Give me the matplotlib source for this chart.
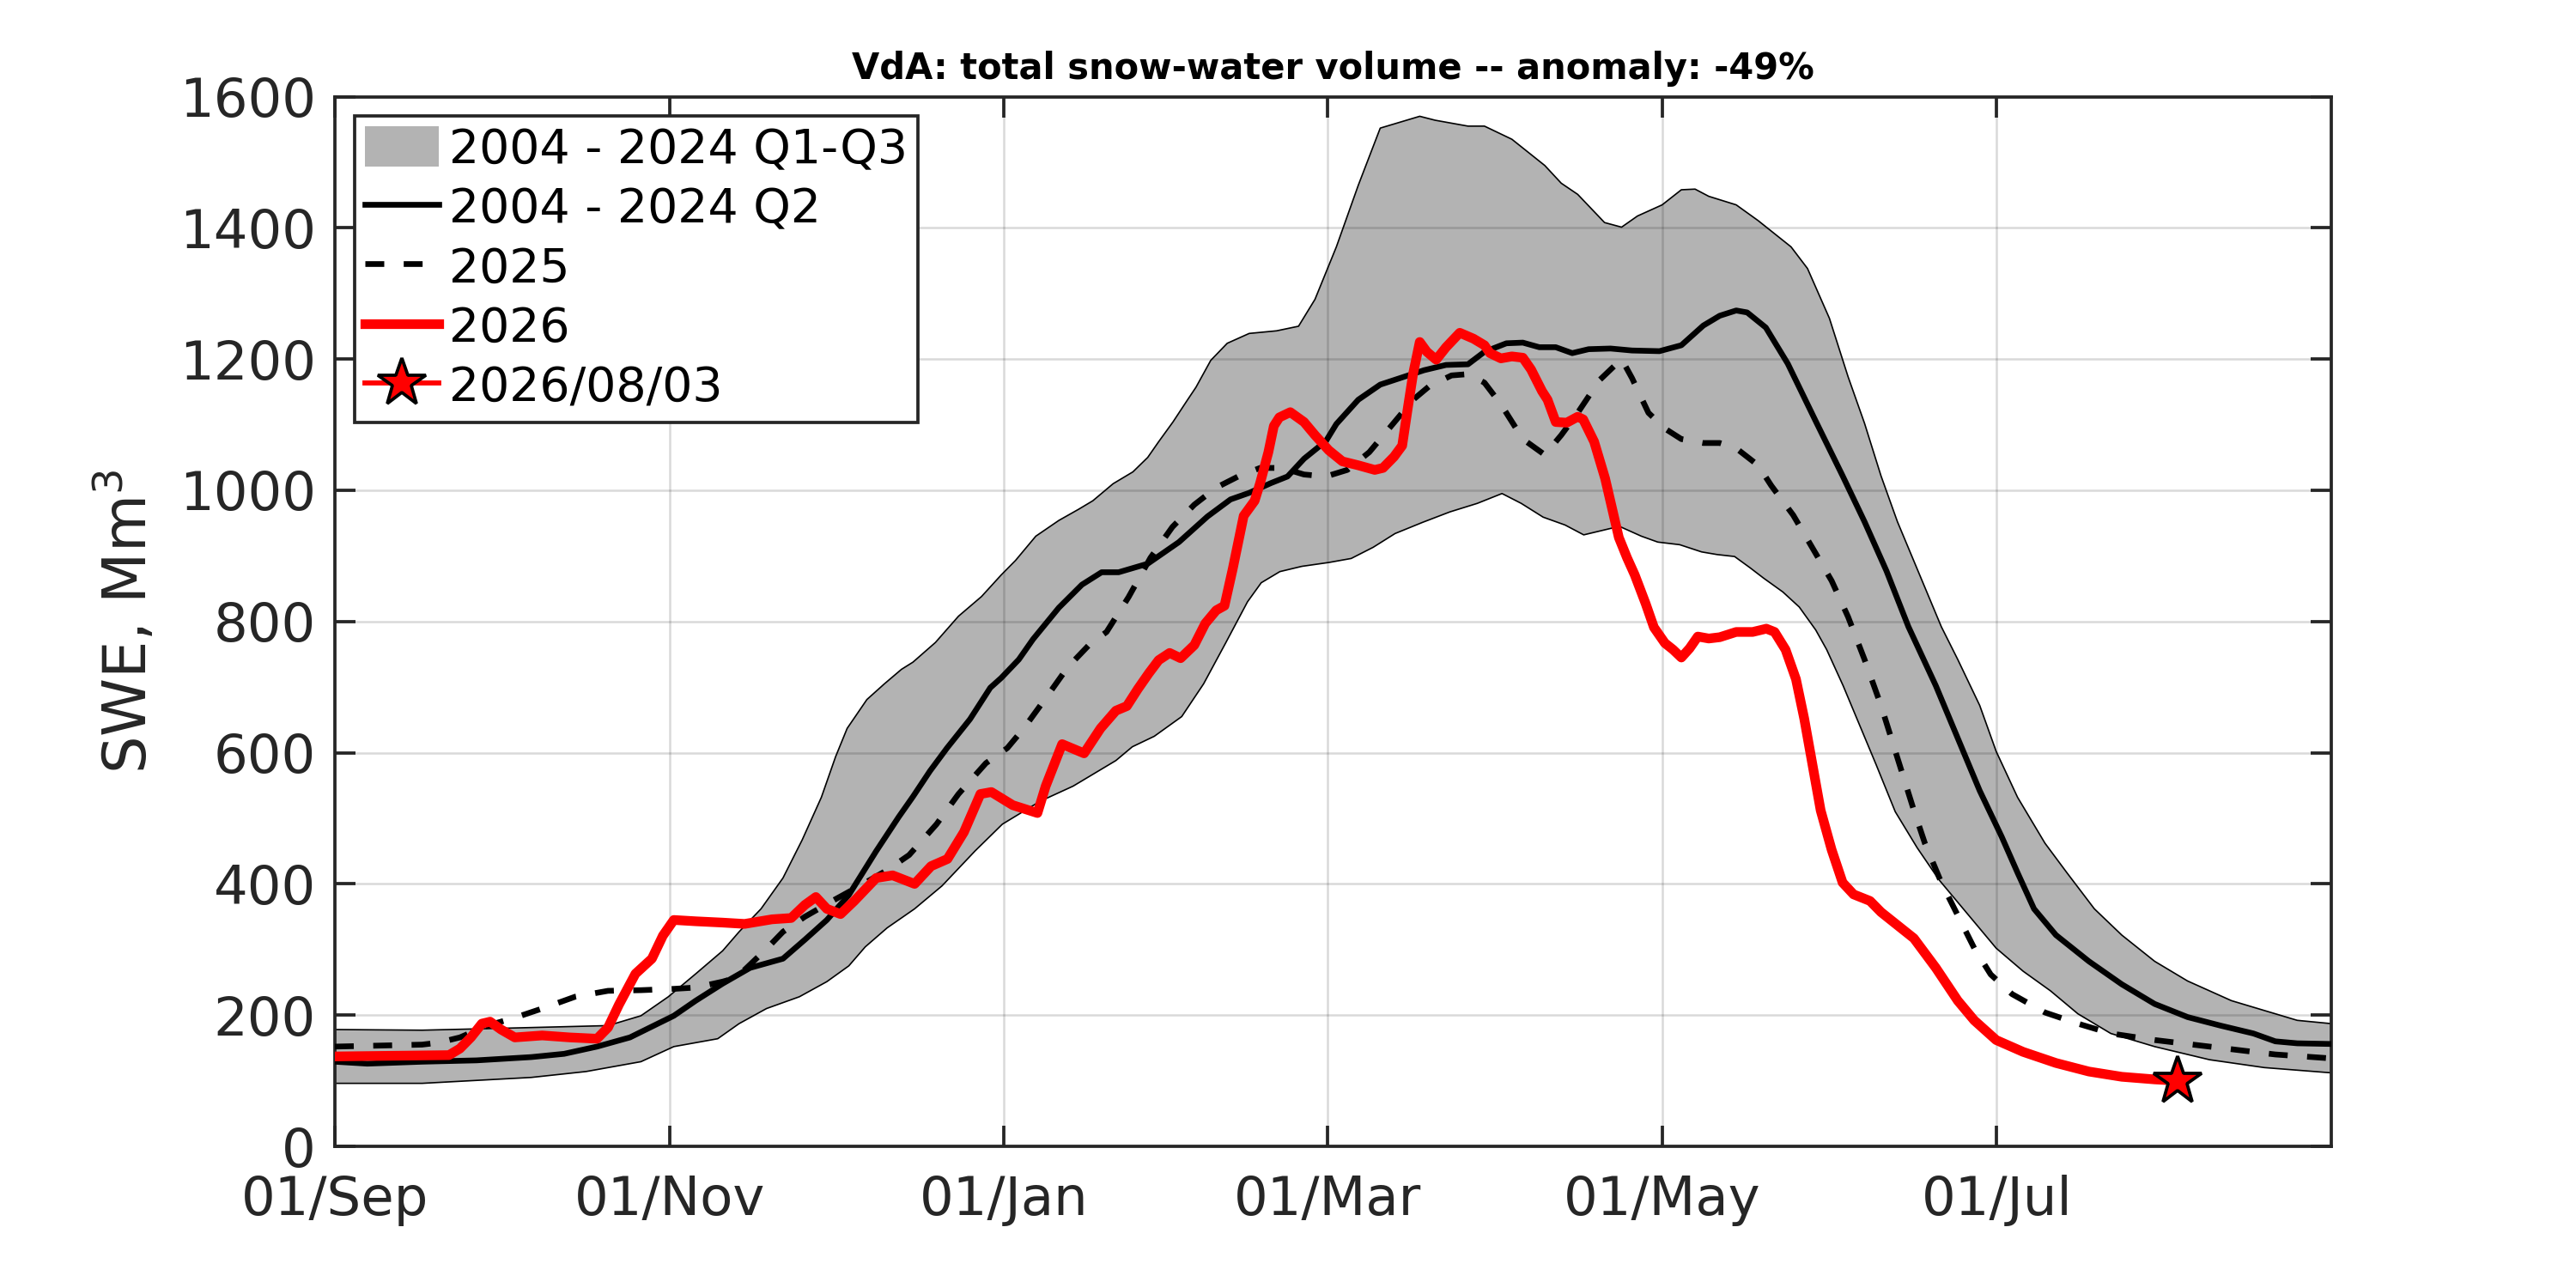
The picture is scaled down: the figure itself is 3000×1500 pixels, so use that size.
import numpy as np
import matplotlib
matplotlib.use('Agg')
import matplotlib.pyplot as plt

# days counted from 01/Sep (season 2025-26), values in Mm3
q3Day = [0, 15.9, 30.8, 49.8, 55.8, 60.8, 65.8, 70.7, 73.7, 77.7, 81.7, 85.2, 88.7, 91.3, 93.4, 97.0,
         100.2, 103.3, 105.4, 109.5, 113.7, 117.9, 121.5, 124.1, 127.8, 132.0, 135.6, 138.2, 141.9,
         145.5, 148.2, 150.2, 152.8, 155.4, 157.0, 159.7,
         162.7, 166.7, 171.7, 175.7, 178.7, 182.6, 186.6, 190.6, 194.6, 197.8, 200.6, 206.6, 209.6,
         214.6, 220.6, 223.6, 226.6, 231.5, 234.6, 237.5, 242, 245.5, 248, 250.5, 255.5, 259.5, 265.5,
         268.5, 272.5, 275.9, 278.9, 281.9, 284.9, 288.9, 292.9, 295.9, 299.9, 302.9, 306.8, 311.8,
         315.8, 320.8, 325.8, 331.8, 337.8, 345.8, 351.8, 357.8, 364]
q3Val = [178, 177, 180, 184, 199, 228, 263, 298, 327, 362, 409, 467, 532, 594, 637, 681,
         705, 727, 738, 768, 808, 838, 871, 893, 930, 954, 971, 984, 1010,
         1028, 1050, 1074, 1104, 1137, 1157, 1198,
         1224, 1239, 1243, 1250, 1291, 1371, 1465, 1552, 1562, 1570, 1564, 1555, 1555,
         1535, 1495, 1468, 1451, 1408, 1401, 1418, 1435, 1458, 1459, 1448, 1435, 1411, 1371,
         1338, 1262, 1173, 1102, 1022, 952, 872, 792, 742, 672, 602, 532, 462,
         417, 362, 322, 282, 252, 222, 207, 192, 187]

q1Day = [0, 15.9, 35.8, 45.8, 55.8, 61.8, 69.8, 73.7, 78.7, 84.7, 89.7, 93.7, 96.7, 100.7, 105.7,
         110.7, 116.7, 121.7, 128.6, 134.6, 142.4, 145.4, 149.4, 154.4, 158.4, 162.4, 166.4, 168.9,
         172.3, 176.3, 181.3, 185.3, 189.3, 193.3, 198.3, 203.3, 208.3, 212.8, 216.3, 220.3, 224.3,
         227.7, 230.2, 234.2, 238.2, 241.2, 245.2, 249.2, 252, 255.2, 258, 260.5, 264, 267, 270, 272,
         275, 278, 281, 284.5, 288.5, 292.5, 297.9, 302.9, 307.8, 312.8, 317.8, 323.8, 331.8, 341.8,
         351.8, 364]
q1Val = [96, 96, 105, 114, 129, 152, 164, 187, 210, 228, 251, 275, 304, 333, 362,
         397, 450, 491, 526, 549, 588, 609, 625, 655, 705, 767, 830, 859,
         876, 884, 890, 896, 913, 934, 951, 967, 980, 995, 980, 959, 947,
         932, 937, 945, 930, 921, 917, 906, 902, 899, 882, 866, 845, 822, 787, 757,
         702, 642, 582, 510, 455, 406, 352, 302, 267, 237, 202, 172, 152, 132,
         120, 112]

q2Day = [0, 5.9, 15.9, 25.8, 35.8, 41.8, 47.8, 53.8, 61.8, 65.8, 70.7, 75.7, 81.7, 85.7, 89.7, 93.7,
         98.7, 102.8, 105.4, 108.5, 111.6, 115.8, 119.5, 121.5, 124.7, 127.3, 132.0, 136.2, 139.8,
         142.9, 148.2, 153.9, 159.1, 163.3, 166.7, 170.7, 173.7, 176.7, 180.7, 182.6, 186.6, 190.6,
         194.6, 198.6, 202.6, 206.6, 209.6, 213.6, 216.6, 219.6, 222.6, 225.6, 228.6, 232.6, 236.5,
         241.5, 245.5, 249.5, 252.5, 255.5, 257.5, 260.9, 264.9, 269.9, 274.9, 278.9, 282.9, 286.9,
         291.9, 295.9, 299.9, 303.9, 306.8, 309.8, 313.8, 319.8, 325.8, 331.8, 337.8, 343.8, 349.8,
         353.8, 357.8, 364]
q2Val = [129, 126, 129, 131, 136, 141, 152, 166, 199, 222, 248, 272, 286, 315, 345, 383,
         450, 502, 533, 572, 607, 651, 699, 714, 742, 773, 821, 856, 875,
         875, 888, 921, 960, 986, 996, 1011, 1021, 1048, 1075, 1101, 1138, 1161,
         1172, 1183, 1191, 1192, 1211, 1224, 1225, 1218, 1218, 1209, 1215, 1216, 1213,
         1212, 1221, 1251, 1266, 1274, 1271, 1248, 1193, 1107, 1022, 952, 877, 792,
         702, 622, 542, 472, 417, 362, 322, 282, 247, 217, 197, 184, 172,
         160, 157, 156]

y25Day = [0, 15.9, 18.9, 22.8, 27.8, 32.8, 37.8, 43.8, 49.8, 55.8, 61.8, 65.8, 70.7, 73.2, 75.7,
          78.7, 81.7, 85.7, 90.7, 95.7, 100.7, 104.7, 109.7, 113.7, 118.7, 122.6, 125.6, 129.6, 133.6,
          137.6, 140.7, 144.7, 148.7, 152.7, 156.7, 160.7, 164.7, 168.7, 172.7, 176.7, 180.7, 184.6,
          188.6, 192.6, 196.6, 199.6, 203.6, 206.6, 209.6, 212.6, 216.6, 220.6, 223.6, 226.6, 230.6,
          234.6, 236.5, 239.5, 242.5, 245.5, 249.5, 252.5, 255.5, 259.5, 261.9, 265.9, 269.9, 272.9,
          275.9, 278.9, 281.9, 284.9, 287.9, 289.9, 292.9, 295.9, 298.9, 301.9, 305.8, 311.8, 317.8,
          323.8, 331.8, 339.8, 346.8, 353.8, 364]
y25Val = [152, 155, 158, 166, 184, 196, 210, 228, 237, 238, 240, 242, 251, 257, 277,
          301, 327, 350, 374, 397, 421, 444, 491, 537, 584, 607, 637, 683, 730,
          765, 784, 837, 897, 944, 978, 1004, 1021, 1034, 1034, 1024, 1021, 1031,
          1058, 1098, 1138, 1159, 1175, 1177, 1164, 1131, 1078, 1054, 1084, 1118, 1168,
          1200, 1171, 1118, 1094, 1078, 1072, 1072, 1064, 1038, 1007, 962, 905, 862,
          807, 742, 672, 592, 512, 462, 402, 352, 302, 262, 232, 204, 187,
          172, 162, 154, 147, 140, 134]

y26Day = [0, 20.8, 22.8, 24.8, 26.8, 28.3, 30.3, 32.8, 37.8, 42.8, 47.8, 49.8, 51.8, 54.8, 57.8,
          59.8, 61.8, 65.8, 70.7, 74.7, 79.7, 83.2, 85.7, 87.7, 89.7, 92.2, 94.7, 98.7, 101.7, 105.7,
          108.7, 111.7, 114.7, 117.7, 119.7, 123.6, 128.1, 129.6, 132.6, 136.6, 139.6, 142.4, 144.4,
          146.4, 148.4, 150.2, 152.2, 154.2, 156.7, 158.7, 160.7, 162.2, 163.7, 165.7, 167.7, 168.7,
          170.2, 171.2, 172.2, 174.2, 176.7, 178.7, 181.2, 183.7, 186.6, 189.6, 191.1, 193.1, 194.6,
          195.6, 196.6, 197.8, 199.1, 200.8, 202.6, 205.1, 207.6, 209.6, 210.6, 212.6, 214.6, 216.6,
          218.1, 220.1, 221.1, 222.6, 224.6, 226.6, 227.6, 229.6, 231.6, 233.1, 234.1, 235.6, 237,
          239, 240.5, 242.5, 244, 245.5, 247, 248.5, 250.5, 252.5, 255.5, 258.5, 261, 262.5, 264.5,
          266.4, 267.9, 269.4, 270.9, 272.9, 274.9, 276.9, 279.9, 281.9, 284.9, 287.9, 291.9, 295.9,
          298.9, 302.9, 307.8, 313.8, 319.8, 325.8, 331.8, 336]
y26Val = [137, 139, 149, 166, 187, 190, 178, 166, 169, 166, 164, 181, 216, 263, 286,
          321, 345, 343, 341, 339, 346, 348, 368, 380, 362, 354, 374, 409, 413, 400,
          427, 438, 479, 537, 540, 520, 508, 549, 613, 599, 637, 664, 671,
          697, 721, 741, 752, 744, 764, 797, 817, 824, 880, 961, 984, 1011,
          1058, 1098, 1111, 1119, 1104, 1084, 1061, 1044, 1038, 1031, 1034, 1051, 1068,
          1124, 1178, 1226, 1211, 1199, 1218, 1240, 1231, 1221, 1209, 1201, 1204, 1202,
          1184, 1151, 1138, 1104, 1103, 1112, 1108, 1074, 1018, 964, 928, 897, 871,
          827, 791, 767, 757, 745, 759, 777, 774, 776, 784, 784, 789, 784, 757,
          712, 652, 582, 512, 452, 402, 384, 374, 357, 337, 317, 272, 222,
          192, 162, 144, 127, 114, 106, 102, 100]

lastDay = 336
lastVal = 100

tickDays = [0, 61, 122, 181, 242, 303]
tickLabels = ['01/Sep', '01/Nov', '01/Jan', '01/Mar', '01/May', '01/Jul']

axCol = '#262626'
fig = plt.figure(figsize=(10, 5), dpi=300)
ax = fig.add_axes([0.13, 0.11, 0.775, 0.815])

# interquartile band, outline drawn separately as thin lines
ax.fill(np.concatenate((q3Day, q1Day[::-1])), np.concatenate((q3Val, q1Val[::-1])),
        color='#b3b3b3', lw=0, label='2004 - 2024 Q1-Q3', zorder=1)
ax.plot(q3Day, q3Val, 'k', lw=0.4, zorder=1.2)
ax.plot(q1Day, q1Val, 'k', lw=0.4, zorder=1.2)
ax.plot(q2Day, q2Val, 'k', lw=1.6, label='2004 - 2024 Q2', zorder=3)
ax.plot(y25Day, y25Val, color='k', lw=1.6, linestyle=(0, (3.3, 3.4)), label='2025', zorder=3)
ax.plot(y26Day, y26Val, color='red', lw=2.7, label='2026', zorder=4)
ax.plot([lastDay], [lastVal], color='red', lw=1.4, marker='*', ms=14, mfc='red', mec='k', mew=0.9,
        label='2026/08/03', zorder=5)

ax.set_xlim(0, 364)
ax.set_ylim(0, 1600)
ax.set_xticks(tickDays)
ax.set_xticklabels(tickLabels)
ax.set_yticks(np.arange(0, 1601, 200))
ax.set_axisbelow('line')
ax.grid(True, color='k', alpha=0.15, lw=0.6)
ax.tick_params(direction='in', length=5.8, width=0.9, top=True, right=True,
               labelsize=15, pad=5.3, colors=axCol, labelcolor=axCol)
ax.tick_params(axis='x', pad=8)
for sp in ax.spines.values():
    sp.set_color(axCol)
    sp.set_linewidth(0.9)

ax.set_ylabel('SWE, Mm$^3$', fontsize=16.5, color=axCol, labelpad=6)
ax.set_title('VdA: total snow-water volume -- anomaly: -49%', fontsize=10, fontweight='bold', pad=5)

leg = ax.legend(loc='upper left', fontsize=13.3, borderaxespad=0.41, handlelength=1.55,
                handleheight=0.92, handletextpad=0.22, labelspacing=0.27, borderpad=0.22,
                fancybox=False, framealpha=1, numpoints=1)
leg.get_frame().set_edgecolor(axCol)
leg.get_frame().set_linewidth(0.9)

plt.savefig('out.png', dpi=300)
